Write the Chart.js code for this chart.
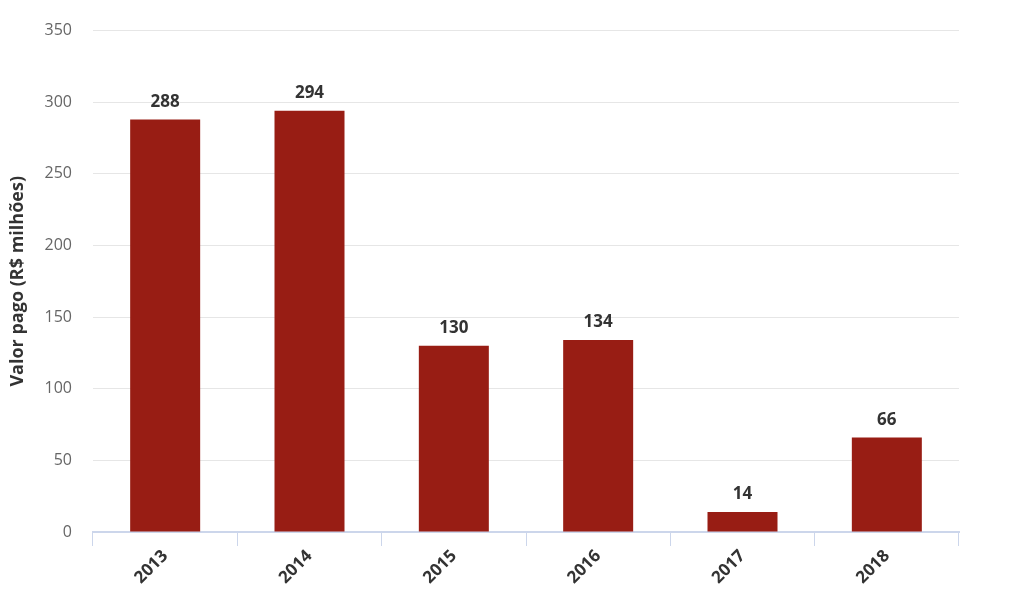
<!DOCTYPE html>
<html>
<head>
<meta charset="utf-8">
<script src="https://cdn.jsdelivr.net/npm/chart.js@4/dist/chart.umd.min.js"></script>
<style>
  html, body { margin: 0; padding: 0; background: #fff; }
  #wrap { width: 1024px; height: 599px; }
</style>
</head>
<body>
<div id="wrap"><canvas id="chart" width="1024" height="599"></canvas></div>
<script>
const years = ['2013', '2014', '2015', '2016', '2017', '2018'];
const valores = [288, 294, 130, 134, 14, 66];
const yTicks = [0, 50, 100, 150, 200, 250, 300, 350];

const FONT = '"Open Sans", "DejaVu Sans", sans-serif';

// rotulos acima das barras
const barLabels = {
  id: 'barLabels',
  afterDatasetsDraw(chart) {
    const ctx = chart.ctx;
    const meta = chart.getDatasetMeta(0);
    ctx.save();
    ctx.font = 'bold 17px ' + FONT;
    ctx.fillStyle = '#333333';
    ctx.textAlign = 'center';
    ctx.textBaseline = 'bottom';
    meta.data.forEach((bar, i) => {
      ctx.fillText(String(valores[i]), bar.x, bar.y - 9);
    });
    ctx.restore();
  }
};

const ctx = document.getElementById('chart').getContext('2d');
new Chart(ctx, {
  type: 'bar',
  data: {
    labels: years,
    datasets: [{
      data: valores,
      backgroundColor: '#981d14',
      categoryPercentage: 1,
      barPercentage: 0.485
    }]
  },
  options: {
    responsive: false,
    animation: false,
    layout: { padding: { left: 7, right: 65, top: 28, bottom: 0 } },
    plugins: {
      legend: { display: false },
      tooltip: { enabled: false }
    },
    scales: {
      x: {
        offset: true,
        grid: {
          offset: true,
          drawOnChartArea: false,
          drawTicks: true,
          tickLength: 14,
          color: '#ccd6eb'
        },
        border: { color: '#ccd6eb', width: 2 },
        ticks: {
          color: '#333333',
          font: { family: FONT, size: 17, weight: 'bold' },
          maxRotation: 45,
          minRotation: 45,
          padding: 0
        },
        afterFit(scale) { scale.height = 67; }
      },
      y: {
        min: 0,
        max: 350,
        afterBuildTicks(scale) { scale.ticks = yTicks.map(v => ({ value: v })); },
        grid: { color: '#e6e6e6', drawTicks: false, lineWidth: 1 },
        border: { display: false },
        ticks: {
          color: '#666666',
          font: { family: FONT, size: 16 },
          padding: 21
        },
        title: {
          display: true,
          text: 'Valor pago (R$ milhões)',
          color: '#333333',
          font: { family: FONT, size: 18, weight: 'bold' },
          padding: 0
        },
        afterFit(scale) { scale.width = 86; }
      }
    }
  },
  plugins: [barLabels]
});
</script>
</body>
</html>
